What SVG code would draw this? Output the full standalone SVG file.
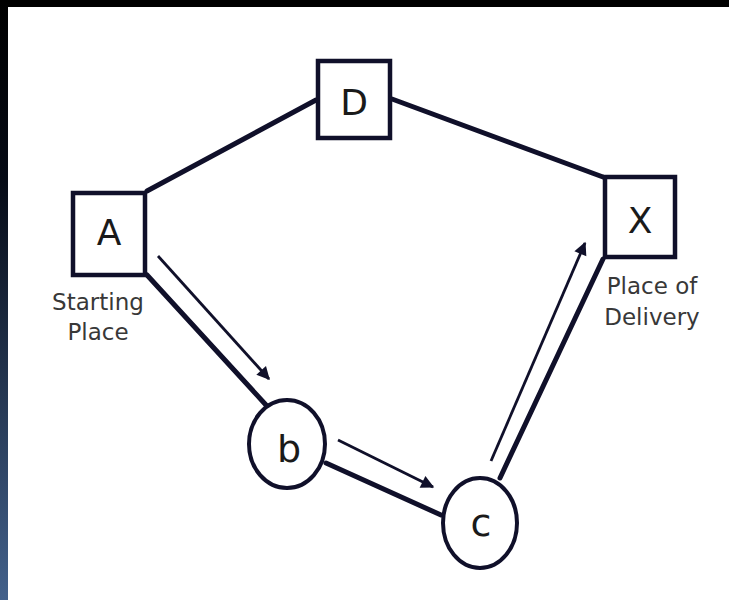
<svg xmlns="http://www.w3.org/2000/svg" width="729" height="600" viewBox="0 0 729 600">
  <defs>
    <linearGradient id="strip" x1="0" y1="0" x2="0" y2="1">
      <stop offset="0" stop-color="#000000"/>
      <stop offset="0.3" stop-color="#060b16"/>
      <stop offset="1" stop-color="#43618b"/>
    </linearGradient>
    <marker id="arrow" viewBox="0 0 10 10" refX="9" refY="5" markerWidth="17" markerHeight="13" markerUnits="userSpaceOnUse" orient="auto" overflow="visible">
      <path d="M0,0 L10,5 L0,10 z" fill="#10102a"/>
    </marker>
    <style>
      .box { fill: #ffffff; stroke: #10102a; stroke-width: 4.5; }
      .circ { fill: #ffffff; stroke: #10102a; stroke-width: 4; }
      .edge { stroke: #10102a; stroke-width: 5; fill: none; stroke-linecap: round; }
      .arr { stroke: #10102a; stroke-width: 2.8; fill: none; marker-end: url(#arrow); }
      .letter { font-family: "DejaVu Sans", Verdana, sans-serif; font-size: 36px; fill: #1a1a1a; text-anchor: middle; }
      .label { font-family: "DejaVu Sans", Verdana, sans-serif; font-size: 23px; fill: #383838; text-anchor: middle; }
    </style>
  </defs>
  <rect x="0" y="0" width="729" height="600" fill="#ffffff"/>
  <rect x="0" y="0" width="729" height="7" fill="#000000"/>
  <rect x="0" y="0" width="8" height="600" fill="url(#strip)"/>

  <g id="connectors">
    <line class="edge" x1="147" y1="191" x2="316" y2="100"/>
    <line class="edge" x1="392" y1="99" x2="603" y2="177"/>
    <line class="edge" x1="147" y1="275" x2="266" y2="405"/>
    <line class="edge" x1="326" y1="463" x2="441" y2="515"/>
    <line class="edge" x1="500" y1="478" x2="603" y2="259"/>
    <line class="arr" x1="158" y1="256" x2="269" y2="379"/>
    <line class="arr" x1="338" y1="440" x2="433" y2="487"/>
    <line class="arr" x1="491" y1="461" x2="585" y2="243"/>
  </g>

  <g id="node-D">
    <rect class="box" x="318" y="61" width="72" height="77"/>
    <text class="letter" x="354" y="115">D</text>
  </g>
  <g id="node-A">
    <rect class="box" x="73" y="193" width="72" height="82"/>
    <text class="letter" x="109" y="245">A</text>
    <text class="label" x="98" y="310">Starting</text>
    <text class="label" x="98" y="340">Place</text>
  </g>
  <g id="node-X">
    <rect class="box" x="605" y="177" width="70" height="80"/>
    <text class="letter" x="640" y="233">X</text>
    <text class="label" x="652" y="294">Place of</text>
    <text class="label" x="652" y="325">Delivery</text>
  </g>
  <g id="node-b">
    <ellipse class="circ" cx="287" cy="444" rx="38" ry="44"/>
    <text class="letter" x="289" y="462" style="font-size:38px">b</text>
  </g>
  <g id="node-c">
    <ellipse class="circ" cx="480" cy="523" rx="37" ry="45"/>
    <text class="letter" x="481" y="536" style="font-size:38px">c</text>
  </g>
</svg>
